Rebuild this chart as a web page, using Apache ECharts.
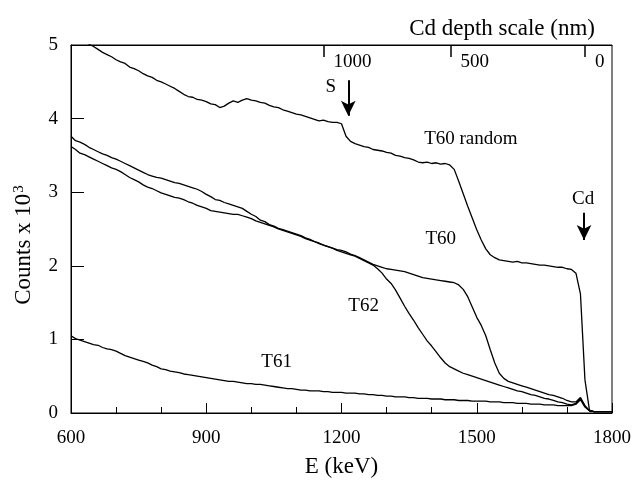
<!DOCTYPE html>
<html>
<head>
<meta charset="utf-8">
<script src="https://cdn.jsdelivr.net/npm/echarts@6/dist/echarts.min.js"></script>
<style>html,body{margin:0;padding:0;background:#fff}#c{width:639px;height:483px}</style>
</head>
<body>
<div id="c"></div>
<script>
// Energy channels (keV)
const energies = [
600,610,620,630,640,650,660,670,680,690,
700,710,720,730,740,750,760,770,780,790,
800,810,820,830,840,850,860,870,880,890,
900,910,920,930,940,950,960,970,980,990,
1000,1010,1020,1030,1040,1050,1060,1070,1080,1090,
1100,1110,1120,1130,1140,1150,1160,1170,1180,1190,
1200,1210,1220,1230,1240,1250,1260,1270,1280,1290,
1300,1310,1320,1330,1340,1350,1360,1370,1380,1390,
1400,1410,1420,1430,1440,1450,1460,1470,1480,1490,
1500,1510,1520,1530,1540,1550,1560,1570,1580,1590,
1600,1610,1620,1630,1640,1650,1660,1670,1680,1690,
1700,1710,1720,1730,1740,1750,1760,1770,1780,1790,
1800];
// Counts (x 10^3)
const t60random = [
5.25,5.18,5.12,5.06,5.01,4.98,4.94,4.90,4.87,4.84,
4.80,4.77,4.75,4.70,4.68,4.65,4.61,4.58,4.56,4.52,
4.50,4.47,4.44,4.41,4.37,4.33,4.30,4.29,4.26,4.25,
4.23,4.20,4.19,4.15,4.17,4.21,4.24,4.22,4.25,4.27,
4.25,4.24,4.22,4.21,4.18,4.16,4.15,4.12,4.10,4.08,
4.06,4.05,4.03,4.01,3.99,3.97,3.98,3.96,3.95,3.95,
3.93,3.76,3.69,3.66,3.64,3.62,3.61,3.58,3.57,3.56,
3.54,3.53,3.50,3.49,3.47,3.46,3.44,3.41,3.40,3.41,
3.39,3.40,3.38,3.39,3.37,3.31,3.15,2.98,2.81,2.65,
2.49,2.35,2.23,2.15,2.11,2.08,2.07,2.06,2.05,2.06,
2.04,2.04,2.03,2.02,2.01,2.01,2.00,1.99,1.98,1.98,
1.96,1.95,1.90,1.62,0.45,0.04,0.02,0.02,0.02,0.02,
0.02];
const t60 = [
3.76,3.70,3.68,3.65,3.61,3.58,3.55,3.52,3.50,3.47,
3.45,3.42,3.39,3.36,3.33,3.30,3.27,3.24,3.22,3.20,
3.19,3.17,3.15,3.13,3.12,3.10,3.08,3.06,3.04,3.01,
2.97,2.94,2.90,2.89,2.86,2.84,2.82,2.80,2.78,2.74,
2.70,2.67,2.62,2.60,2.56,2.54,2.51,2.49,2.47,2.45,
2.43,2.41,2.38,2.36,2.33,2.31,2.28,2.26,2.24,2.22,
2.21,2.19,2.16,2.14,2.11,2.08,2.05,2.02,2.00,1.98,
1.96,1.95,1.94,1.93,1.92,1.90,1.88,1.86,1.84,1.83,
1.82,1.81,1.80,1.79,1.78,1.77,1.74,1.68,1.58,1.44,
1.30,1.19,1.05,0.86,0.68,0.54,0.47,0.43,0.41,0.39,
0.37,0.35,0.33,0.31,0.29,0.27,0.25,0.24,0.22,0.20,
0.17,0.15,0.15,0.21,0.10,0.03,0.02,0.02,0.02,0.02,
0.02];
const t62 = [
3.62,3.58,3.53,3.51,3.48,3.45,3.42,3.39,3.36,3.33,
3.31,3.28,3.24,3.20,3.17,3.14,3.10,3.07,3.05,3.02,
2.99,2.97,2.95,2.93,2.92,2.90,2.87,2.85,2.82,2.80,
2.78,2.75,2.74,2.73,2.72,2.71,2.70,2.70,2.68,2.66,
2.64,2.61,2.59,2.57,2.55,2.53,2.50,2.48,2.46,2.44,
2.42,2.40,2.37,2.35,2.33,2.30,2.28,2.26,2.24,2.21,
2.19,2.17,2.15,2.13,2.10,2.07,2.04,2.01,1.96,1.90,
1.82,1.76,1.67,1.56,1.45,1.35,1.26,1.16,1.07,0.98,
0.91,0.83,0.75,0.68,0.63,0.60,0.57,0.54,0.52,0.50,
0.48,0.46,0.44,0.42,0.40,0.38,0.36,0.34,0.32,0.30,
0.29,0.27,0.25,0.24,0.22,0.20,0.19,0.17,0.15,0.14,
0.12,0.11,0.13,0.20,0.09,0.03,0.02,0.02,0.02,0.02,
0.02];
const t61 = [
1.05,1.01,0.99,0.97,0.95,0.93,0.92,0.89,0.87,0.86,
0.84,0.81,0.78,0.76,0.74,0.72,0.70,0.68,0.65,0.63,
0.60,0.59,0.57,0.56,0.55,0.53,0.52,0.51,0.50,0.49,
0.48,0.47,0.46,0.45,0.44,0.43,0.43,0.42,0.41,0.40,
0.40,0.39,0.39,0.38,0.37,0.36,0.35,0.34,0.33,0.33,
0.32,0.31,0.31,0.30,0.30,0.30,0.29,0.29,0.28,0.28,
0.28,0.27,0.27,0.27,0.26,0.26,0.25,0.25,0.24,0.24,
0.23,0.23,0.22,0.22,0.22,0.21,0.21,0.20,0.20,0.20,
0.19,0.19,0.19,0.18,0.18,0.18,0.17,0.17,0.17,0.16,
0.16,0.16,0.16,0.15,0.15,0.15,0.14,0.14,0.14,0.13,
0.13,0.13,0.12,0.12,0.12,0.11,0.11,0.11,0.10,0.10,
0.10,0.10,0.12,0.18,0.08,0.03,0.02,0.02,0.02,0.02,
0.02];
// Top depth scale: tick energies and depth labels (nm)
const depthEnergies = [1160, 1442, 1740];
const depthLabels = ['1000', '500', '0'];
// Text annotations [E, counts]
const annoTexts = ['T60 random', 'T60', 'T62', 'T61', 'S', 'Cd'];
const annoE = [1487, 1420, 1249, 1056, 1176, 1736];
const annoC = [3.72, 2.36, 1.45, 0.69, 4.43, 2.91];
// Arrows [E, from, to]
const arrowE = [1215, 1738];
const arrowFrom = [4.52, 2.72];
const arrowTo = [4.04, 2.35];

const FONT = 'Liberation Serif';
const INK = '#000';
const pair = arr => energies.map((e, i) => [e, arr[i]]);
const lineSeries = (name, arr) => ({
  name, type: 'line', data: pair(arr), symbol: 'none', silent: true,
  lineStyle: { color: INK, width: 1.3 }, clip: true, animation: false
});

const chart = echarts.init(document.getElementById('c'), null, { renderer: 'canvas' });
chart.setOption({
  animation: false,
  backgroundColor: '#fff',
  title: {
    text: 'Cd depth scale (nm)', right: 39, top: 12,
    textStyle: { fontFamily: FONT, fontSize: 23, fontWeight: 'normal', color: INK }
  },
  grid: { left: 71, right: 27, top: 45, bottom: 68, show: true, borderColor: INK, borderWidth: 1 },
  xAxis: [{
    type: 'value', min: 600, max: 1800, interval: 300,
    name: 'E (keV)', nameLocation: 'middle', nameGap: 42,
    nameTextStyle: { fontFamily: FONT, fontSize: 23, color: INK },
    axisLine: { lineStyle: { color: INK, width: 1 } },
    axisTick: { inside: true, length: 10, lineStyle: { color: INK } },
    minorTick: { show: true, splitNumber: 3, length: 6, lineStyle: { color: INK } },
    axisLabel: { margin: 16, fontFamily: FONT, fontSize: 19, color: INK, formatter: v => String(v) },
    splitLine: { show: false }
  }, {
    type: 'value', min: 600, max: 1800, position: 'top',
    axisLine: { show: true, lineStyle: { color: INK, width: 1 } },
    axisTick: { show: true, inside: true, length: 12, customValues: depthEnergies, lineStyle: { color: INK, width: 1.5 } },
    axisLabel: {
      show: true, inside: true, customValues: depthEnergies, margin: 8,
      align: 'left', padding: [0, 0, 0, 10], verticalAlign: 'top',
      fontFamily: FONT, fontSize: 19, color: INK,
      formatter: v => depthLabels[depthEnergies.indexOf(v)]
    },
    splitLine: { show: false }
  }],
  yAxis: {
    type: 'value', min: 0, max: 5, interval: 1,
    name: 'Counts x 10{sup|3}', nameLocation: 'middle', nameGap: 35,
    nameTextStyle: {
      fontFamily: FONT, fontSize: 23, color: INK, padding: [0, 32, 0, 0],
      rich: { sup: { fontFamily: FONT, fontSize: 15, color: INK, verticalAlign: 'top', padding: [0, 0, 9, 1] } }
    },
    axisLine: { show: true, lineStyle: { color: INK, width: 1 } },
    axisTick: { inside: true, length: 13, lineStyle: { color: INK } },
    axisLabel: { margin: 13, fontFamily: FONT, fontSize: 19, color: INK },
    splitLine: { show: false }
  },
  series: [
    lineSeries('T60 random', t60random),
    lineSeries('T60', t60),
    lineSeries('T62', t62),
    lineSeries('T61', t61),
    {
      type: 'scatter', silent: true, symbolSize: 0,
      itemStyle: { opacity: 1, color: INK },
      data: annoTexts.map((t, i) => ({ value: [annoE[i], annoC[i]], name: t })),
      label: {
        show: true, position: 'inside', formatter: p => p.name,
        fontFamily: FONT, fontSize: 19, color: INK, opacity: 1
      },
      markLine: {
        silent: true, symbol: ['none', 'arrow'], symbolSize: [11, 15],
        label: { show: false },
        lineStyle: { color: INK, width: 2, type: 'solid', opacity: 1 },
        data: arrowE.map((e, i) => [{ coord: [e, arrowFrom[i]] }, { coord: [e, arrowTo[i]] }])
      }
    }
  ]
});
</script>
</body>
</html>
